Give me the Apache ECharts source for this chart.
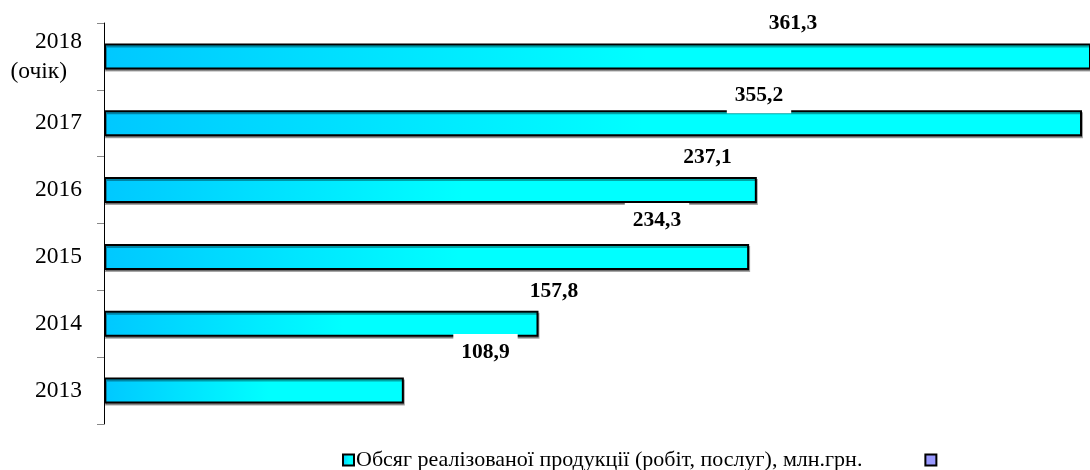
<!DOCTYPE html>
<html>
<head>
<meta charset="utf-8">
<script src="https://cdn.jsdelivr.net/npm/echarts@6/dist/echarts.min.js"></script>
<style>html,body{margin:0;padding:0;background:#fff;}#c{width:1090px;height:470px;}</style>
</head>
<body>
<div id="c"></div>
<script>
const categories = ['2013', '2014', '2015', '2016', '2017', '2018 (очік)'];
const values = [108.9, 157.8, 234.3, 237.1, 355.2, 361.3];
const seriesName = 'Обсяг реалізованої продукції (робіт, послуг), млн.грн.';
const emptySeriesName = ' ';

// label anchor offsets relative to each bar's top-left corner (layout only)
const labelAnchor = [[381.5, -25.5], [450, -19.5], [553, -23], [603.5, -20], [655, -15], [689, -19.5]];

const chart = echarts.init(document.getElementById('c'), null, {renderer: 'canvas'});
const serif = 'Liberation Serif';

const barData = values.map((v, i) => ({
  value: v,
  label: {position: labelAnchor[i]}
}));

chart.setOption({
  animation: false,
  backgroundColor: '#fff',
  grid: {left: 104, top: 23, height: 401, right: 0, containLabel: false},
  xAxis: {type: 'value', min: 0, max: 358.1, show: false},
  yAxis: {
    type: 'category',
    data: categories,
    axisLine: {show: true, lineStyle: {color: '#000', width: 1}},
    axisTick: {show: true, length: 7, lineStyle: {color: '#888', width: 1}},
    axisLabel: {
      margin: 22,
      color: '#000',
      fontFamily: serif,
      fontSize: 23.5,
      formatter: function (v) {
        if (v.indexOf(' ') > 0) {
          const p = v.split(' ');
          return '{a|' + p[0] + '}\n{b|' + p[1] + '}';
        }
        return v;
      },
      rich: {
        a: {fontFamily: serif, fontSize: 23.5, color: '#000', lineHeight: 30, align: 'right'},
        b: {fontFamily: serif, fontSize: 23.5, color: '#000', lineHeight: 30, align: 'right', padding: [0, 15, 0, 0]}
      }
    }
  },
  legend: {
    left: 342, top: 449,
    padding: 0,
    icon: 'rect',
    itemWidth: 11, itemHeight: 11, itemGap: 62,
    itemStyle: {borderColor: '#000', borderWidth: 2},
    textStyle: {fontFamily: serif, fontSize: 22, color: '#000', padding: [0, 0, 0, -3]},
    data: [seriesName, emptySeriesName]
  },
  series: [
    {
      name: seriesName,
      type: 'bar',
      barWidth: 26,
      barGap: '-100%',
      clip: true,
      data: barData,
      itemStyle: {
        color: new echarts.graphic.LinearGradient(0, 0, 1, 0, [
          {offset: 0, color: '#00C8FF'},
          {offset: 0.55, color: '#00FFFF'},
          {offset: 1, color: '#00FFFF'}
        ]),
        borderColor: '#000',
        borderWidth: 2,
        shadowColor: 'rgba(0,0,0,0.35)',
        shadowOffsetX: 1,
        shadowOffsetY: 2,
        shadowBlur: 0
      },
      label: {
        show: true,
        align: 'center',
        verticalAlign: 'middle',
        fontFamily: serif,
        fontWeight: 'bold',
        fontSize: 21.5,
        lineHeight: 20,
        color: '#000',
        backgroundColor: '#fff',
        padding: [8, 8],
        formatter: p => p.value.toFixed(1).replace('.', ',')
      }
    },
    {
      name: emptySeriesName,
      type: 'bar',
      barWidth: 26,
      barGap: '-100%',
      data: [],
      itemStyle: {color: '#9999FF', borderColor: '#000', borderWidth: 2}
    }
  ]
});
</script>
</body>
</html>
